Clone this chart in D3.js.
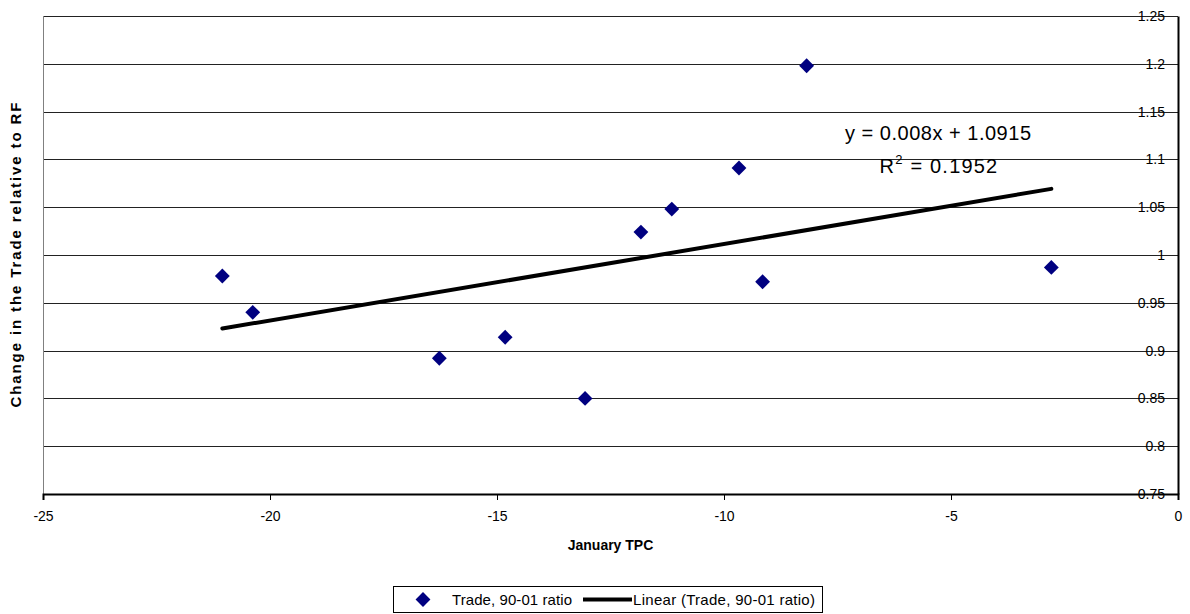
<!DOCTYPE html>
<html><head><meta charset="utf-8">
<script src="https://cdn.jsdelivr.net/npm/d3@7"></script>
<style>
html,body{margin:0;padding:0;background:#fff;}
svg{display:block;font-family:"Liberation Sans",Arial,sans-serif;}
</style></head>
<body>
<svg id="chart" width="1190" height="614"></svg>
<script>
// Data
const tpc = [-21.05, -20.38, -16.27, -14.82, -13.06, -11.83, -11.15, -9.67, -9.15, -8.18, -2.79];
const ratio = [0.978, 0.940, 0.892, 0.914, 0.850, 1.024, 1.048, 1.091, 0.972, 1.198, 0.987];
const trendSlope = 0.008;
const trendIntercept = 1.0915;
const rSquared = 0.1952;
const xTicks = [-25, -20, -15, -10, -5, 0];
const yTicks = [0.75, 0.8, 0.85, 0.9, 0.95, 1, 1.05, 1.1, 1.15, 1.2, 1.25];
const seriesName = "Trade, 90-01 ratio";
const trendName = "Linear (Trade, 90-01 ratio)";
const xTitle = "January TPC";
const yTitle = "Change in the Trade relative to RF";

const svg = d3.select("#chart");
const L = 43, R = 1178, T = 16, B = 494;
const x = d3.scaleLinear().domain([-25, 0]).range([L, R]);
const y = d3.scaleLinear().domain([0.75, 1.25]).range([B, T]);

// gridlines
svg.append("g").selectAll("line").data(yTicks).join("line")
  .attr("x1", L).attr("x2", R)
  .attr("y1", d => Math.round(y(d)) + 0.5).attr("y2", d => Math.round(y(d)) + 0.5)
  .attr("stroke", "#222").attr("stroke-width", 1);

// left border of plot area
svg.append("line").attr("x1", L + 0.5).attr("x2", L + 0.5).attr("y1", T).attr("y2", B)
  .attr("stroke", "#808080").attr("stroke-width", 1);

// x axis
const xAxis = d3.axisBottom(x).tickValues(xTicks).tickSize(6).tickPadding(11).tickFormat(d3.format("d"));
const gx = svg.append("g").attr("transform", `translate(0,${B})`).call(xAxis);
gx.select(".domain").attr("stroke", "#000").attr("stroke-width", 2);
gx.selectAll(".tick line").attr("stroke", "#000").attr("stroke-width", 1);
gx.selectAll(".tick text").attr("font-size", 14).attr("fill", "#000")
  .attr("font-family", "Liberation Sans, Arial, sans-serif").text(d => d === 0 ? "0" : String(d));

// y axis on the right (crosses at x=0), labels inside
const yAxis = d3.axisLeft(y).tickValues(yTicks).tickSize(0).tickPadding(13).tickFormat(d => String(+d.toFixed(2)));
const gy = svg.append("g").attr("transform", `translate(${R},0)`).call(yAxis);
gy.select(".domain").attr("stroke", "#000").attr("stroke-width", 2);
gy.selectAll(".tick text").attr("font-size", 14).attr("fill", "#000")
  .attr("font-family", "Liberation Sans, Arial, sans-serif");

// trend line
const xs = d3.extent(tpc);
svg.append("line")
  .attr("x1", x(xs[0])).attr("y1", y(trendSlope * xs[0] + trendIntercept))
  .attr("x2", x(xs[1])).attr("y2", y(trendSlope * xs[1] + trendIntercept))
  .attr("stroke", "#000").attr("stroke-width", 4).attr("stroke-linecap", "round");

// points (diamonds)
const diamond = d3.symbol().type(d3.symbolSquare).size(110);
svg.append("g").selectAll("path").data(tpc.map((d, i) => [d, ratio[i]])).join("path")
  .attr("d", diamond)
  .attr("transform", d => `translate(${x(d[0])},${y(d[1])}) rotate(45)`)
  .attr("fill", "#000080");

// equation text
const eq = svg.append("g").attr("font-size", 20).attr("fill", "#000");
eq.append("text").attr("x", 845).attr("y", 140)
  .attr("textLength", 186).attr("lengthAdjust", "spacing")
  .text(`y = ${trendSlope}x + ${trendIntercept}`);
const r2 = eq.append("text").attr("x", 939).attr("y", 173).attr("text-anchor", "middle")
  .attr("letter-spacing", 1.2);
r2.append("tspan").text("R");
r2.append("tspan").attr("font-size", 13).attr("dy", -9).text("2");
r2.append("tspan").attr("dy", 9).text(` = ${rSquared}`);

// axis titles
svg.append("text").attr("x", (L + R) / 2).attr("y", 550).attr("text-anchor", "middle")
  .attr("font-size", 14).attr("font-weight", "bold").text(xTitle);
svg.append("text").attr("transform", `translate(21,${(T + B) / 2}) rotate(-90)`)
  .attr("text-anchor", "middle").attr("font-size", 15).attr("font-weight", "bold")
  .attr("textLength", 305).attr("lengthAdjust", "spacing").text(yTitle);

// legend
const lg = svg.append("g");
lg.append("rect").attr("x", 393.5).attr("y", 586.5).attr("width", 429).attr("height", 26)
  .attr("fill", "#fff").attr("stroke", "#000").attr("stroke-width", 1);
lg.append("path").attr("d", diamond).attr("transform", "translate(423,599.5) rotate(45)").attr("fill", "#000080");
lg.append("text").attr("x", 452).attr("y", 605).attr("font-size", 15)
  .attr("textLength", 120).attr("lengthAdjust", "spacing").text(seriesName);
lg.append("line").attr("x1", 583).attr("x2", 632).attr("y1", 599.5).attr("y2", 599.5)
  .attr("stroke", "#000").attr("stroke-width", 4);
lg.append("text").attr("x", 633).attr("y", 605).attr("font-size", 15)
  .attr("textLength", 182).attr("lengthAdjust", "spacing").text(trendName);
</script>
</body></html>
